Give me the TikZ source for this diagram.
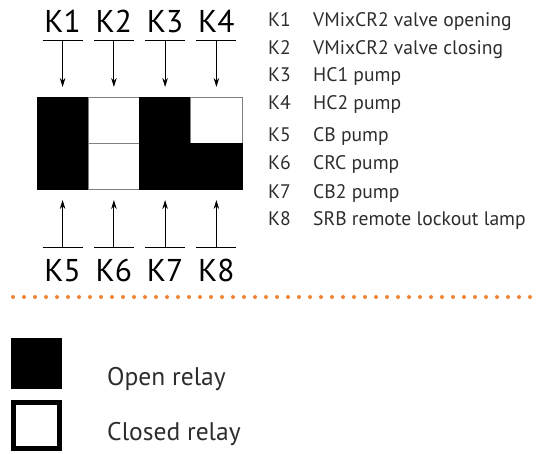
\documentclass[tikz,border=0pt]{standalone}
\usepackage{fontspec}
\setmainfont{PT Sans}
\usetikzlibrary{arrows.meta,positioning}
\definecolor{dotorange}{RGB}{242,130,52}
\definecolor{txtgray}{RGB}{45,45,45}
\tikzset{relay/.style={line width=0.8pt,minimum width=51.25pt,minimum height=46pt,inner sep=0pt,outer sep=0pt}}
\tikzset{open/.style={relay,draw=black,fill=black}}
\tikzset{closed/.style={relay,draw=gray,fill=white}}
\tikzset{klabel/.style={anchor=base,inner sep=0pt,font=\fontsize{31.5}{31.5}\selectfont}}
\tikzset{pointer/.style={-{Stealth[length=9pt,width=5.5pt]},line width=0.9pt}}
\tikzset{item/.style={anchor=base west,inner sep=0pt,text=txtgray,font=\fontsize{19.6}{19.6}\selectfont}}
\tikzset{keytext/.style={anchor=base west,inner sep=0pt,text=txtgray,font=\fontsize{25.5}{25.5}\selectfont}}

\begin{document}
\begin{tikzpicture}[x=1pt,y=-1pt]
\useasboundingbox (0,0) rectangle (537,454);
% relay block, top row K1..K4, bottom row K5..K8
\node (c1) [open] at (62.6,120) {};
\node (c2) [closed] at (113.9,120) {};
\node (c3) [open] at (165.1,120) {};
\node (c4) [closed] at (216.4,120) {};
\node (c5) [open] at (62.6,166) {};
\node (c6) [closed] at (113.9,166) {};
\node (c7) [open] at (165.1,166) {};
\node (c8) [open] at (216.4,166) {};
%
\node (k1) [klabel] at (62.6,33) {K1};
\node (k2) [klabel] at (113.9,33) {K2};
\node (k3) [klabel] at (165.1,33) {K3};
\node (k4) [klabel] at (216.4,33) {K4};
\node (k5) [klabel] at (62.6,281) {K5};
\node (k6) [klabel] at (113.9,281) {K6};
\node (k7) [klabel] at (165.1,281) {K7};
\node (k8) [klabel] at (216.4,281) {K8};
%
\coordinate (t1) at (62.6,40);
\coordinate (t2) at (113.9,40);
\coordinate (t3) at (165.1,40);
\coordinate (t4) at (216.4,40);
\coordinate (t5) at (62.6,247);
\coordinate (t6) at (113.9,247);
\coordinate (t7) at (165.1,247);
\coordinate (t8) at (216.4,247);
\foreach \i in {1,...,8}
  \draw [line width=0.6pt] ([xshift=-20pt]t\i) -- ([xshift=20pt]t\i);
\draw [pointer,shorten >=10pt] (t1) -- (c1.north);
\draw [pointer,shorten >=10pt] (t2) -- (c2.north);
\draw [pointer,shorten >=10pt] (t3) -- (c3.north);
\draw [pointer,shorten >=10pt] (t4) -- (c4.north);
\draw [pointer,shorten >=11pt] (t5) -- (c5.south);
\draw [pointer,shorten >=11pt] (t6) -- (c6.south);
\draw [pointer,shorten >=11pt] (t7) -- (c7.south);
\draw [pointer,shorten >=11pt] (t8) -- (c8.south);
% list of relays
\node (n1) [item] at (268,27) {K1};
\node (n2) [item] at (268,55) {K2};
\node (n3) [item] at (268,82) {K3};
\node (n4) [item] at (268,110) {K4};
\node (n5) [item] at (268,142) {K5};
\node (n6) [item] at (268,170) {K6};
\node (n7) [item] at (268,198) {K7};
\node (n8) [item] at (268,225) {K8};
\node (d1) [item] at (313,27) {VMixCR2 valve opening};
\node (d2) [item] at (313,55) {VMixCR2 valve closing};
\node (d3) [item] at (313,82) {HC1 pump};
\node (d4) [item] at (313,110) {HC2 pump};
\node (d5) [item] at (313,142) {CB pump};
\node (d6) [item] at (313,170) {CRC pump};
\node (d7) [item] at (313,198) {CB2 pump};
\node (d8) [item] at (313,225) {SRB remote lockout lamp};
% separator
\draw [dotorange,line width=4pt,line cap=round,dash pattern=on 0pt off 11pt] (13,297) -- (540,297);
% legend
\node (openkey) [fill=black,minimum size=51pt,inner sep=0pt] at (36.5,363.5) {};
\node (closedkey) [draw=black,line width=5pt,fill=white,minimum size=46pt,inner sep=0pt] at (36.5,425.5) {};
\node (opentext) [keytext] at (107,385) {Open relay};
\node (closedtext) [keytext] at (107,440) {Closed relay};
\end{tikzpicture}
\end{document}
